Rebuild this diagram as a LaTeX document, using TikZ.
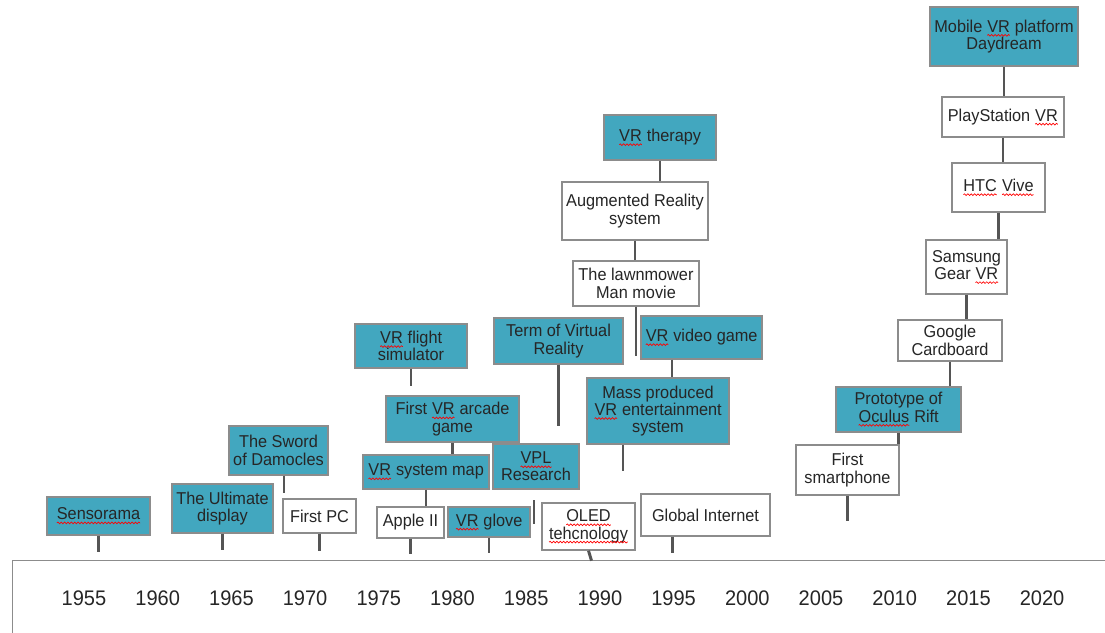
\documentclass[tikz,border=0pt]{standalone}
\usepackage{fontspec}
\setmainfont{Liberation Sans}[FakeStretch=0.95]
\usetikzlibrary{positioning,calc,decorations.pathmorphing}

\definecolor{vrteal}{RGB}{66,167,191}
\definecolor{framegray}{RGB}{140,140,140}
\definecolor{stemgray}{RGB}{85,85,85}
\definecolor{inkgray}{RGB}{38,38,38}

% red spell-check wave under a word
\newcommand\spell[1]{\tikz[baseline=(sw.base)]{\node[inner sep=0pt, outer sep=0pt, draw=none,
        fill=none, minimum width=0pt, minimum height=0pt, align=left] (sw) {#1};
    \draw[red, line width=0.5pt, decorate, decoration={snake, amplitude=0.6pt, segment length=2.4pt}]
        ([yshift=-2.2pt]sw.base west) -- ([yshift=-2.2pt]sw.base east);}}

\begin{document}
\begin{tikzpicture}[
    x=0.025cm, y=-0.025cm,
    wh/.style 2 args={minimum width=#1*0.025cm, minimum height=#2*0.025cm},
    box/.style={draw=framegray, line width=1pt, text=inkgray, align=center,
        inner sep=0pt, font=\fontsize{12.2}{12.3}\selectfont},
    tealbox/.style={box, fill=vrteal},
    plainbox/.style={box, fill=white},
    stem/.style={draw=stemgray, line width=2.1pt},
    frame/.style={draw=framegray, line width=1pt},
    year/.style={text=inkgray, font=\fontsize{15}{18}\selectfont}
]
    \useasboundingbox (0,0) rectangle (1105,632);
    \fill[white] (0,0) rectangle (1105,632);
    \clip (0,0) rectangle (1105,632);

    % time axis
    \draw[frame] (12.5,560.5) rectangle (1140,680);
    \foreach \yr [count=\i from 0] in {1955,1960,...,2020}
        \node[year] (y\yr) at ({84+73.7*\i},598) {\yr};

    % events
    \node[tealbox, wh={103}{38}] (sensorama) at (98.5,516) {\spell{Sensorama}};
    \node[tealbox, wh={101}{49}] (ultimate) at (222.5,508.5) {The Ultimate\\display};
    \node[tealbox, wh={99}{49}] (sword) at (278.5,450.5) {The Sword\\of Damocles};
    \node[plainbox, wh={73}{34}] (firstpc) at (319.5,516) {First PC};
    \node[tealbox, wh={112}{44}] (flight) at (411,346) {\spell{VR} flight\\simulator};
    \node[tealbox, wh={133}{46}] (arcade) at (452.5,419) {First \spell{VR} arcade\\game};
    \node[tealbox, wh={126}{34}] (sysmap) at (426,472) {\spell{VR} system map};
    \node[plainbox, wh={67}{31}] (apple) at (410.5,522.5) {Apple II};
    \node[tealbox, wh={82}{30}] (glove) at (489,522) {\spell{VR} glove};
    \node[tealbox, wh={86}{45}] (vpl) at (536,466.5) {\spell{VPL}\\Research};
    \node[tealbox, wh={129}{46}] (term) at (558.5,341) {Term of Virtual\\Reality};
    \node[plainbox, wh={93}{47}] (oled) at (588.5,526.5) {\spell{OLED}\\\spell{tehcnology}};
    \node[plainbox, wh={129}{42}] (internet) at (705.5,515) {Global Internet};
    \node[tealbox, wh={142}{66}] (massvr) at (658,411) {Mass produced\\\spell{VR} entertainment\\system};
    \node[tealbox, wh={121}{43}] (videogame) at (701.5,337.5) {\spell{VR} video game};
    \node[plainbox, wh={126}{45}] (lawnmower) at (636,283.5) {The lawnmower\\Man movie};
    \node[plainbox, wh={146}{58}] (augmented) at (635,211) {Augmented Reality\\system};
    \node[tealbox, wh={112}{45}] (therapy) at (660,137.5) {\spell{VR} therapy};
    \node[plainbox, wh={103}{50}] (smartphone) at (847.5,470) {First\\smartphone};
    \node[tealbox, wh={125}{45}] (oculus) at (898.5,409.5) {Prototype of\\\spell{Oculus} Rift};
    \node[plainbox, wh={104}{41}] (cardboard) at (950,340.5) {Google\\Cardboard};
    \node[plainbox, wh={81}{54}] (gear) at (966.5,267) {Samsung\\Gear \spell{VR}};
    \node[plainbox, wh={93}{49}] (htc) at (998.5,187.5) {\spell{HTC} \spell{Vive}};
    \node[plainbox, wh={122}{40}] (playstation) at (1003,117) {PlayStation \spell{VR}};
    \node[tealbox, wh={148}{59}] (daydream) at (1004,36.5) {Mobile \spell{VR} platform\\Daydream};
    \coordinate (vplmark) at (534,500);

    % stems down to the axis
    \foreach \n/\len in {sensorama/16, ultimate/16, firstpc/17, flight/17, apple/15,
        glove/15, term/61, lawnmower/49, smartphone/25}
        \draw[stem] (\n.south) -- ++(0,\len);
    \draw[stem] ($(sword.south)+(5.5,0)$) -- ++(0,17);
    \draw[stem] ($(internet.south)+(-33,0)$) -- ++(0,16);
    \draw[stem] ($(massvr.south)+(-35,0)$) -- ++(0,26);
    \draw[stem] (oled.south) -- ++(3,10);
    \draw[stem] (vplmark) -- ++(0,24);

    % stems between stacked events
    \draw[stem] (arcade.south) -- (arcade.south |- sysmap.north);
    \draw[stem] (sysmap.south) -- (sysmap.south |- apple.north);
    \draw[stem] ($(videogame.south)+(-29.5,0)$) coordinate (vg) -- (vg |- massvr.north);
    \draw[stem] (therapy.south) -- (therapy.south |- augmented.north);
    \draw[stem] (augmented.south) -- (augmented.south |- lawnmower.north);
    \draw[stem] (daydream.south) -- (daydream.south |- playstation.north);
    \draw[stem] (playstation.south) -- (playstation.south |- htc.north);
    \draw[stem] (htc.south) -- (htc.south |- gear.north);
    \draw[stem] (gear.south) -- (gear.south |- cardboard.north);
    \draw[stem] (cardboard.south) -- (cardboard.south |- oculus.north);
    \draw[stem] (oculus.south) -- (oculus.south |- smartphone.north);
\end{tikzpicture}
\end{document}
